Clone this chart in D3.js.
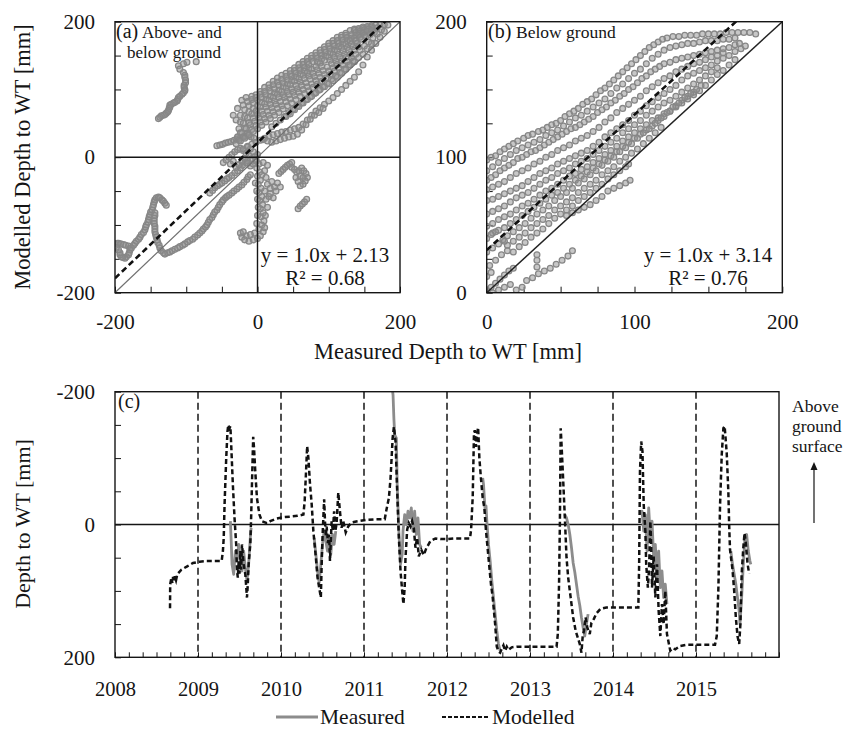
<!DOCTYPE html>
<html>
<head>
<meta charset="utf-8">
<script src="https://cdn.jsdelivr.net/npm/d3@7"></script>
<style>
  body { margin: 0; background: #fff; }
  svg { display: block; }
  text { font-family: "Liberation Serif", "Times New Roman", serif; fill: #151515; }
</style>
</head>
<body>
<svg id="fig" width="857" height="731"></svg>
<script>
// ---------- data ----------
// (a) measured vs modelled depth to water table, above- and below ground [mm]
const pairsAboveBelow = [
  // upper-left wandering run
  [-86,141],[-99,140],[-104,138],[-111,135],[-109,130],[-104,125],[-102,121],[-102,118],[-101,114],[-101,110],[-103,106],[-103,103],[-102,100],[-102,98],[-104,95],[-106,93],[-109,90],[-111,88],[-112,85],[-113,83],[-116,81],[-118,80],[-121,78],[-123,77],[-123,74],[-124,72],[-125,69],[-126,67],[-128,65],[-130,63],[-132,62],[-135,61],[-137,59],[-139,57],
  // lower-left loop and spike
  [-200,-128],[-197,-127],[-195,-127],[-192,-128],[-188,-129],[-185,-130],[-181,-131],[-179,-134],[-179,-137],[-180,-141],[-181,-144],[-184,-147],[-186,-149],[-189,-148],[-191,-147],[-193,-144],[-193,-141],[-195,-137],[-198,-133],
  [-177,-134],[-174,-130],[-172,-127],[-170,-124],[-167,-121],[-165,-118],[-163,-114],[-160,-111],[-158,-107],[-157,-103],[-156,-100],[-154,-96],[-153,-92],[-152,-88],[-151,-85],[-150,-81],[-148,-78],[-147,-74],[-146,-70],[-145,-66],[-144,-63],[-142,-60],[-139,-59],[-137,-60],[-134,-63],[-132,-65],[-130,-68],[-128,-71],
  [-144,-82],[-144,-86],[-145,-90],[-145,-94],[-145,-98],[-144,-102],[-144,-106],[-144,-110],[-143,-114],[-142,-118],[-141,-122],[-140,-126],[-138,-130],[-137,-134],[-135,-138],[-132,-141],[-130,-143],
  // long lower run towards the origin
  [-126,-141],[-123,-140],[-120,-138],[-116,-136],[-112,-134],[-109,-132],[-105,-130],[-102,-128],[-98,-125],[-95,-123],[-91,-121],[-88,-118],[-84,-115],[-81,-112],[-78,-109],[-76,-106],[-73,-103],[-71,-100],[-69,-96],[-67,-92],[-64,-89],[-62,-85],[-60,-81],[-57,-78],[-55,-74],[-53,-70],[-50,-66],[-48,-63],[-45,-60],[-43,-58],[-40,-56],[-36,-53],[-33,-50],[-29,-47],[-26,-44],[-22,-41],[-19,-37],[-15,-33],[-13,-29],[-10,-26],
  [-67,-53],[-63,-49],[-60,-45],[-56,-42],[-53,-40],[-50,-38],[-46,-35],[-43,-32],[-40,-30],[-36,-27],[-32,-23],[-28,-20],[-24,-16],[-21,-12],[-17,-8],[-14,-5],
  [-48,-8],[-44,-4],[-40,0],[-36,4],[-32,8],[-28,11],[-24,13],[-20,10],[-16,6],[-12,2],[-8,-2],[-4,1],[0,4],[-6,8],[-10,12],[-14,15],[-30,-15],[-26,-11],[-22,-6],[-18,-2],[-14,-9],[-10,-13],[-6,-10],[-2,-4],[-34,-6],[-38,-10],
  [-57,17],[-53,18],[-49,19],[-45,21],[-41,22],[-37,23],[-33,25],[-29,27],[-25,28],[-21,29],[-17,31],[-13,32],[-9,30],[-5,28],
  // main cloud
  [-34,62],[-28,72],[-22,84],[-16,88],[-8,90],[-2,92],[4,97],[10,103],[16,107],[22,112],[28,117],[34,121],[40,124],[46,128],[52,132],[58,137],[64,141],[70,146],[76,150],[82,154],[88,158],[94,163],[100,168],[106,172],[112,177],[118,180],[124,183],[130,187],[136,189],[142,190],[148,192],[154,193],[160,194],[166,195],[172,196],[178,196],[183,195],
  [-20,77],[-14,82],[-8,85],[-2,88],[4,93],[10,97],[16,102],[22,107],[28,111],[34,115],[40,119],[46,123],[52,128],[58,132],[64,137],[70,141],[76,146],[82,150],[88,154],[94,159],[100,164],[106,168],[112,172],[118,177],[124,180],[136,187],[142,188],[148,190],[154,191],[160,192],
  [-30,55],[-24,62],[-18,70],[-12,76],[-6,80],[0,84],[6,88],[12,92],[18,97],[24,101],[30,106],[36,110],[42,114],[48,119],[54,124],[60,128],[66,132],[72,137],[78,141],[84,146],[90,150],[96,155],[102,160],[108,164],[114,168],[120,173],[126,177],[132,181],[138,184],[144,186],[150,188],[156,189],[162,190],[168,191],
  [-24,52],[-18,60],[-12,67],[-6,72],[0,76],[6,81],[12,86],[18,90],[24,95],[30,99],[36,104],[42,108],[48,113],[54,118],[60,122],[66,127],[72,131],[84,140],[90,145],[96,149],[102,154],[108,158],[114,163],[120,167],[126,172],[132,176],[138,180],[144,183],[150,185],
  [-26,42],[-20,50],[-14,58],[-8,64],[-2,68],[4,74],[10,79],[16,84],[22,88],[28,93],[34,97],[40,102],[46,107],[52,112],[58,116],[64,121],[70,125],[76,130],[82,134],[88,139],[94,143],[100,148],[106,152],[112,157],[118,162],[124,167],[130,172],[136,176],[142,180],[148,183],[154,186],[160,187],
  [-24,36],[-18,43],[-12,51],[-6,58],[0,63],[6,68],[12,74],[18,78],[24,83],[30,88],[36,92],[42,97],[48,101],[54,106],[60,111],[66,116],[72,120],[78,124],[84,129],[90,134],[102,143],[108,147],[114,152],[120,157],[126,162],[132,167],[138,172],[144,177],[150,180],
  [-28,30],[-22,36],[-16,42],[-10,48],[-4,53],[2,58],[8,63],[14,68],[20,73],[26,78],[32,82],[38,88],[44,92],[50,96],[56,101],[62,106],[68,110],[74,115],[80,119],[86,124],[92,128],[98,133],[104,138],[110,142],[116,147],[122,152],[128,158],[134,163],[140,168],[146,174],[152,178],[158,181],[164,184],
  [-26,25],[-20,30],[-14,35],[-8,41],[-2,47],[4,52],[10,57],[16,62],[22,67],[28,72],[34,76],[40,82],[46,86],[52,91],[58,96],[64,100],[70,104],[76,108],[82,113],[88,118],[94,122],[100,127],[106,132],[112,137],[118,142],[124,147],[130,152],[136,158],[142,163],
  [-30,20],[-24,24],[-18,28],[-12,33],[-6,38],[0,42],[6,47],[12,52],[18,57],[24,62],[30,66],[36,71],[42,76],[48,80],[54,85],[60,90],[66,94],[72,98],[78,103],[84,108],[90,112],[96,117],[102,122],[108,127],[114,132],[120,136],[126,141],[132,147],[138,152],[144,158],[150,164],[156,170],[162,176],[168,182],[174,188],
  [20,45],[26,50],[32,55],[38,60],[44,66],[50,71],[56,76],[62,80],[68,85],[74,89],[80,94],[86,99],[92,104],[98,109],[104,115],[110,120],[116,125],[122,130],[128,136],[134,142],
  [40,60],[46,64],[52,70],[58,75],[64,80],[70,85],[76,90],[82,95],[88,100],[94,104],[100,108],[106,113],[112,118],[118,124],[124,130],[130,136],[136,141],[142,147],[148,152],[154,160],[160,168],
  [-20,12],[-14,16],[-8,19],[-2,22],[4,25],[10,28],[16,31],[22,33],[28,35],[34,37],[40,38],[46,40],[52,42],[58,44],[64,49],[70,55],[76,62],[82,68],[88,73],[94,78],[100,83],[106,88],[112,94],[118,100],[124,106],[130,112],[136,118],[142,126],[148,136],[154,148],[160,158],[166,168],[172,177],[178,186],
  [8,26],[14,24],[20,22],[26,24],[32,26],[38,28],[44,30],[50,31],[56,34],[62,40],[68,48],[74,56],[80,62],[86,66],[92,72],
  // below the surface on the modelled axis
  [-2,-6],[2,-10],[-1,-16],[3,-22],[0,-28],[4,-34],[1,-40],[5,-46],[2,-52],[6,-58],[3,-64],[7,-70],[4,-76],[8,-82],[5,-88],[9,-94],[6,-100],[2,-106],[8,-110],[-4,-112],[-10,-114],[-16,-116],[-22,-118],[-18,-122],[-12,-124],[-6,-122],[0,-120],[4,-116],[-24,-112],[-20,-110],[10,-20],[12,-30],[14,-40],[10,-50],[12,-62],[14,-74],[11,-86],[16,-58],[18,-46],[8,-8],[14,-12],[6,-26],[-3,-38],[-1,-50],[0,-62],[1,-74],[0,-86],[-1,-98],[10,-104],
  [30,-24],[33,-21],[36,-18],[39,-15],[42,-12],[45,-10],[48,-8],[48,-15],[52,-18],[55,-22],[58,-20],[62,-16],[65,-20],[68,-24],[70,-30],[67,-35],[64,-40],[60,-42],[57,-36],[54,-30],[60,-28],[64,-30],
  [57,-76],[60,-72],[63,-69],[66,-66],[69,-62],[20,-36],[24,-44],[28,-38],[18,-54],[22,-60],[26,-50],[32,-44]
];

// (b) measured vs modelled depth to water table, below ground only [mm]
const pairsBelow = [
  [0,98],[3,100],[6,101],[9,104],[12,106],[15,108],[18,110],[21,112],[25,114],[28,116],[31,117],[35,119],[38,120],[41,122],[44,124],[47,125],[50,127],[53,130],[56,132],[59,134],[62,136],[65,139],[68,141],[71,143],[74,146],[77,149],[80,151],[83,154],[86,157],[89,160],[92,163],[95,166],[98,169],[101,172],[104,175],[107,178],[110,181],[113,183],[116,185],[119,187],[122,188],[126,189],[130,189],[134,190],[138,190],[142,190],[146,191],[150,191],[154,191],[158,191],[162,192],[166,192],[170,192],[174,192],[178,192],[182,191],
  [0,90],[4,93],[8,96],[12,99],[16,102],[20,105],[24,107],[28,109],[32,111],[36,113],[40,116],[44,118],[48,120],[52,123],[56,126],[60,129],[64,131],[68,134],[72,137],[76,140],[80,143],[84,147],[88,151],[92,154],[96,158],[100,162],[104,165],[108,169],[112,173],[116,176],[120,179],[124,181],[128,182],[132,183],[136,184],[140,184],[144,185],[148,186],[152,186],[156,186],[160,187],[164,187],[168,188],
  [0,83],[3,85],[6,87],[9,90],[12,92],[15,94],[18,96],[21,99],[24,100],[27,102],[30,104],[33,105],[36,107],[39,109],[42,111],[45,113],[48,115],[51,117],[54,119],[57,121],[60,122],[63,124],[66,126],[69,128],[72,130],[75,133],[78,135],[81,137],[84,140],[87,142],[90,145],[93,147],[96,150],[99,152],[102,155],[105,158],[108,160],[111,163],[114,165],[117,167],[120,169],[124,170],[128,172],[132,173],[136,174],[140,175],[144,176],[148,177],[152,178],[156,179],[160,180],[164,181],[168,183],[171,184],
  [0,76],[4,78],[8,80],[12,82],[16,85],[20,88],[24,90],[28,92],[32,95],[36,97],[40,100],[44,102],[48,105],[52,107],[56,109],[60,112],[64,114],[68,116],[72,119],[76,122],[80,126],[84,129],[88,133],[92,136],[96,139],[100,142],[104,145],[108,149],[112,152],[116,155],[120,158],[124,160],[128,163],[132,165],[136,167],[140,169],[144,170],[148,172],[152,174],[156,175],[160,177],
  [0,68],[4,69],[8,71],[12,73],[16,75],[20,77],[24,79],[28,82],[32,85],[36,88],[40,90],[44,92],[48,95],[52,97],[56,99],[60,101],[64,103],[68,105],[72,108],[76,111],[80,115],[84,118],[88,121],[92,124],[96,127],[100,131],[104,134],[108,138],[112,141],[116,144],[120,147],[124,150],[128,153],[132,157],[136,160],[140,162],[144,164],[148,166],[152,168],[156,171],[160,173],[164,175],[168,178],[172,180],[175,182],
  [0,58],[4,60],[8,62],[12,64],[16,67],[20,70],[24,72],[28,74],[32,77],[36,80],[40,83],[44,85],[48,88],[52,90],[56,92],[60,95],[64,97],[68,99],[72,102],[76,105],[80,108],[84,111],[88,114],[92,118],[96,121],[100,124],[104,127],[108,131],[112,134],[116,137],[120,140],[124,142],[128,145],[132,148],[136,151],[140,154],[144,157],[148,160],[152,163],[156,166],
  [0,49],[4,51],[8,54],[12,56],[16,58],[20,61],[24,64],[28,66],[32,69],[36,72],[40,75],[44,77],[48,80],[52,83],[56,86],[60,88],[64,91],[68,93],[72,96],[76,99],[80,102],[84,105],[88,108],[92,112],[96,115],[100,118],[104,121],[108,124],[112,127],[116,129],[120,132],[124,134],[128,137],[132,140],[136,143],[140,146],[144,149],[148,153],[152,157],[156,161],[160,164],[164,168],[168,172],
  [4,44],[8,46],[12,48],[16,51],[20,54],[24,57],[28,60],[32,63],[36,66],[40,69],[44,72],[48,74],[52,77],[56,80],[60,83],[64,86],[68,89],[72,92],[76,95],[80,98],[84,101],[88,104],[92,108],[96,111],[100,114],[104,117],[108,120],[112,123],[116,127],[120,130],[124,134],[128,138],[132,142],[136,145],[140,148],
  [11,39],[14,42],[18,45],[22,48],[26,51],[30,55],[34,58],[38,61],[42,64],[46,68],[50,71],[54,74],[58,77],[62,81],[66,84],[70,87],[74,90],[78,94],[82,97],[86,100],[90,104],[94,107],[98,110],[102,114],[106,118],[110,121],[114,125],[118,129],[122,133],[126,137],[130,140],[134,144],[138,147],[142,150],[145,153],
  [14,35],[18,38],[22,41],[26,44],[30,48],[34,51],[38,54],[42,57],[46,61],[50,64],[54,67],[58,70],[62,74],[66,77],[70,80],[74,83],[78,87],[82,90],[86,93],[90,97],[94,100],[98,103],[102,106],[106,110],[110,114],[114,118],[118,122],
  [22,34],[26,37],[30,41],[34,44],[38,47],[42,51],[46,55],[50,58],[54,61],[58,64],[62,68],[66,71],[70,74],[74,77],[78,80],[82,84],[86,87],[90,90],[94,93],[96,95],
  [54,57],[58,59],[62,61],[66,63],[70,65],[74,68],[78,71],[82,75],[86,77],[90,79],[94,81],[97,83],
  [0,40],[3,43],[6,45],[0,30],[4,33],[8,36],[12,38],[2,20],[6,24],[10,28],[14,31],[18,30],
  [27,9],[31,11],[35,14],[39,16],[43,18],[47,21],[51,24],[55,27],[58,31],[34,19],[34,24],[34,28],
  [0,2],[3,4],[6,7],[9,10],[12,13],[15,16],[18,18],[4,0],[8,2],[12,4],[16,6],[20,2],[24,4],[0,12],[3,15]
];

// linear fits shown in (a) and (b): slope, intercept [cm], R²
const fitSlope = [1.0, 1.0];
const fitIntercept = [2.13, 3.14];
const fitR2 = [0.68, 0.76];

// (c) time series, decimal year vs depth to water table [mm]
const modelledSeries = [
  [2008.663,126],[2008.665,90],[2008.68,80],[2008.69,88],[2008.70,79],[2008.71,86],[2008.72,78],[2008.735,84],[2008.75,75],[2008.80,68],[2008.87,63],[2008.94,58],[2009.02,56],[2009.10,55],[2009.20,55],[2009.285,55],
  [2009.30,40],[2009.31,20],[2009.32,-30],[2009.34,-100],[2009.355,-140],[2009.365,-150],[2009.38,-145],[2009.39,-148],[2009.40,-120],[2009.42,-60],[2009.44,-10],[2009.46,30],[2009.47,70],[2009.48,80],[2009.49,55],[2009.50,74],[2009.51,40],[2009.52,68],[2009.53,30],[2009.55,60],[2009.57,75],[2009.59,110],[2009.60,90],[2009.61,60],[2009.63,30],[2009.64,-10],[2009.65,-60],[2009.665,-132],[2009.675,-115],[2009.69,-80],[2009.71,-40],[2009.74,-15],[2009.77,-5],[2009.83,-2],[2009.87,-5],[2009.95,-9],
  [2010.03,-11],[2010.12,-12],[2010.20,-13],[2010.27,-15],[2010.285,-35],[2010.30,-75],[2010.315,-118],[2010.33,-100],[2010.35,-60],[2010.37,-30],[2010.39,10],[2010.42,50],[2010.44,80],[2010.46,95],[2010.48,110],[2010.49,60],[2010.50,20],[2010.51,-10],[2010.52,-38],[2010.53,-5],[2010.54,18],[2010.55,3],[2010.565,28],[2010.58,15],[2010.59,55],[2010.61,-5],[2010.625,10],[2010.64,-20],[2010.655,10],[2010.67,-2],[2010.69,-48],[2010.71,-20],[2010.73,5],[2010.75,-5],[2010.78,12],[2010.81,3],[2010.85,-3],[2010.92,-5],
  [2011.03,-7],[2011.15,-8],[2011.25,-8],[2011.27,-22],[2011.30,-40],[2011.32,-70],[2011.345,-130],[2011.36,-147],[2011.38,-125],[2011.40,-50],[2011.42,20],[2011.44,70],[2011.46,100],[2011.475,120],[2011.49,95],[2011.50,50],[2011.52,8],[2011.54,-2],[2011.56,3],[2011.58,-5],[2011.60,5],[2011.62,35],[2011.64,20],[2011.66,48],[2011.69,38],[2011.72,46],[2011.75,36],[2011.80,25],[2011.86,21],[2011.92,22],
  [2012.00,22],[2012.10,21],[2012.20,21],[2012.277,21],[2012.29,8],[2012.31,-42],[2012.325,-137],[2012.335,-142],[2012.35,-117],[2012.36,-135],[2012.375,-146],[2012.39,-100],[2012.41,-68],[2012.43,-40],[2012.45,-25],[2012.47,10],[2012.50,50],[2012.53,90],[2012.55,109],[2012.58,150],[2012.60,184],[2012.625,192],[2012.64,193],[2012.66,187],[2012.68,182],[2012.70,190],[2012.72,184],[2012.74,189],[2012.78,185],[2012.84,184],[2012.95,184],
  [2013.05,184],[2013.15,184],[2013.25,184],[2013.32,184],[2013.335,165],[2013.35,90],[2013.36,0],[2013.37,-145],[2013.38,-120],[2013.395,-80],[2013.42,-10],[2013.44,50],[2013.46,80],[2013.49,110],[2013.52,140],[2013.55,160],[2013.58,172],[2013.60,180],[2013.62,193],[2013.635,168],[2013.65,160],[2013.67,140],[2013.69,155],[2013.72,165],[2013.74,148],[2013.77,142],[2013.80,134],[2013.85,127],[2013.92,125],
  [2014.00,125],[2014.10,125],[2014.20,125],[2014.305,125],[2014.315,60],[2014.325,-80],[2014.34,-125],[2014.355,-110],[2014.37,-30],[2014.39,10],[2014.40,60],[2014.42,95],[2014.435,65],[2014.45,-5],[2014.46,30],[2014.47,95],[2014.49,48],[2014.51,110],[2014.53,60],[2014.55,130],[2014.57,168],[2014.59,120],[2014.61,150],[2014.63,100],[2014.65,165],[2014.69,190],[2014.72,186],[2014.75,188],[2014.81,183],[2014.89,181],
  [2015.00,181],[2015.10,181],[2015.229,181],[2015.25,168],[2015.27,95],[2015.29,-30],[2015.31,-105],[2015.33,-145],[2015.345,-148],[2015.37,-108],[2015.39,-48],[2015.40,3],[2015.41,38],[2015.425,53],[2015.44,68],[2015.46,100],[2015.48,140],[2015.50,168],[2015.52,180],[2015.535,150],[2015.55,75],[2015.57,35],[2015.585,13],[2015.60,28],[2015.62,58],[2015.64,74]
];

// measured record; null marks gaps between logging periods
const measuredSeries = [
  [2009.39,-5],[2009.40,25],[2009.41,60],[2009.43,75],[2009.45,40],[2009.47,55],[2009.49,30],[2009.51,50],[2009.53,70],[2009.55,40],[2009.57,65],[2009.59,85],[2009.61,60],[2009.63,20],[2009.64,5],
  null,
  [2010.40,20],[2010.42,45],[2010.44,70],[2010.46,88],[2010.48,60],[2010.50,30],[2010.52,10],[2010.54,25],[2010.56,40],[2010.58,20],[2010.60,45],[2010.62,15],[2010.64,30],[2010.66,10],
  null,
  [2011.345,-200],[2011.35,-195],[2011.36,-160],[2011.37,-135],[2011.39,-130],[2011.40,-60],[2011.42,10],[2011.44,60],[2011.46,45],[2011.47,10],[2011.49,-15],[2011.51,0],[2011.53,-20],[2011.55,-10],[2011.57,-25],[2011.59,10],[2011.61,-20],[2011.63,15],[2011.65,-10],[2011.67,30],[2011.69,35],
  null,
  [2012.43,-70],[2012.44,-60],[2012.45,-40],[2012.46,-20],[2012.47,-28],[2012.48,-5],[2012.50,30],[2012.52,55],[2012.54,85],[2012.56,110],[2012.58,135],[2012.60,160],[2012.62,180],[2012.64,190],
  null,
  [2013.42,-15],[2013.44,-10],[2013.46,0],[2013.48,15],[2013.50,35],[2013.52,58],[2013.54,72],[2013.56,90],[2013.58,108],[2013.60,122],[2013.62,140],[2013.64,155],[2013.66,168],[2013.68,150],[2013.70,135],
  null,
  [2014.33,-15],[2014.35,-20],[2014.37,10],[2014.39,-15],[2014.41,40],[2014.43,-25],[2014.45,20],[2014.47,-5],[2014.49,50],[2014.51,30],[2014.53,80],[2014.55,40],[2014.57,95],[2014.59,70],[2014.61,110],[2014.63,90],[2014.65,120],
  null,
  [2015.42,40],[2015.44,60],[2015.46,75],[2015.48,90],[2015.50,110],[2015.52,130],[2015.53,150],[2015.55,110],[2015.57,60],[2015.59,20],[2015.61,15],[2015.63,40],[2015.65,55],[2015.66,60]
];

const yearLabels = [2008, 2009, 2010, 2011, 2012, 2013, 2014, 2015];
const yearDividers = [2009, 2010, 2011, 2012, 2013, 2014, 2015];
const ticksA = [-200, -150, -100, -50, 0, 50, 100, 150, 200];
const labelsA = [-200, 0, 200];
const ticksB = [0, 25, 50, 75, 100, 125, 150, 175, 200];
const labelsB = [0, 100, 200];
const legendNames = ["Measured", "Modelled"];

// ---------- drawing ----------
const svg = d3.select("#fig");
const INK = "#151515";
const DOT = "#878787";

const xA = d3.scaleLinear().domain([-200, 200]).range([115, 400]);
const yA = d3.scaleLinear().domain([-200, 200]).range([292.7, 21.7]);
const xB = d3.scaleLinear().domain([0, 200]).range([486.7, 782.3]);
const yB = d3.scaleLinear().domain([0, 200]).range([292.7, 21.7]);
const xC = d3.scaleLinear().domain([2008, 2016]).range([115, 779]);
const yC = d3.scaleLinear().domain([-200, 200]).range([391.7, 657.3]);

const defs = svg.append("defs");
function clipFor(id, x, y) {
  const [x0, x1] = x.range(), [y0, y1] = y.range();
  defs.append("clipPath").attr("id", id).append("rect")
    .attr("x", x0).attr("y", Math.min(y0, y1))
    .attr("width", x1 - x0).attr("height", Math.abs(y1 - y0));
}

function styleAxis(sel, size) {
  sel.select(".domain").remove();
  sel.attr("font-family", null).attr("font-size", null);
  sel.selectAll(".tick line").attr("stroke", INK).attr("stroke-width", 1);
  sel.selectAll(".tick text").attr("fill", INK).style("font-size", size + "px");
}

function frame(x, y) {
  const [x0, x1] = x.range(), [y0, y1] = y.range();
  svg.append("rect").attr("x", x0).attr("y", Math.min(y0, y1))
    .attr("width", x1 - x0).attr("height", Math.abs(y1 - y0))
    .attr("fill", "none").attr("stroke", INK).attr("stroke-width", 1.4);
}

function scatterPanel(id, x, y, pts, ticks, labels, k) {
  clipFor(id, x, y);
  const fmt = d => labels.includes(d) ? String(d) : "";
  svg.append("g").attr("transform", `translate(0,${y.range()[0]})`)
    .call(d3.axisBottom(x).tickValues(ticks).tickSize(-6).tickPadding(21).tickFormat(fmt))
    .call(s => styleAxis(s, 21));
  svg.append("g").attr("transform", `translate(${x.range()[0]},0)`)
    .call(d3.axisLeft(y).tickValues(ticks).tickSize(-6).tickPadding(20).tickFormat(fmt))
    .call(s => styleAxis(s, 21));

  const plot = svg.append("g").attr("clip-path", `url(#${id})`);
  plot.append("g").selectAll("circle").data(pts).join("circle")
    .attr("cx", d => x(d[0])).attr("cy", d => y(d[1])).attr("r", 2.9)
    .attr("fill", "#909090").attr("fill-opacity", 0.5)
    .attr("stroke", DOT).attr("stroke-width", 1.3);

  const [d0, d1] = x.domain();
  // 1:1 line
  plot.append("line")
    .attr("x1", x(d0)).attr("y1", y(d0)).attr("x2", x(d1)).attr("y2", y(d1))
    .attr("stroke", k === 0 ? "#707070" : "#222").attr("stroke-width", k === 0 ? 1.2 : 1.5);
  // fitted line (intercept given in cm)
  const fy = v => fitSlope[k] * v + fitIntercept[k] * 10;
  plot.append("line")
    .attr("x1", x(d0)).attr("y1", y(fy(d0))).attr("x2", x(d1)).attr("y2", y(fy(d1)))
    .attr("stroke", "#111").attr("stroke-width", 2.6).attr("stroke-dasharray", "6,3.5");

  frame(x, y);

  const cx = k === 0 ? 325 : 708;
  svg.append("text").attr("x", cx).attr("y", 262).attr("text-anchor", "middle")
    .style("font-size", "21px").text(`y = ${fitSlope[k].toFixed(1)}x + ${fitIntercept[k].toFixed(2)}`);
  svg.append("text").attr("x", cx).attr("y", 285).attr("text-anchor", "middle")
    .style("font-size", "21px").text(`R² = ${fitR2[k].toFixed(2)}`);
}

// panel (a)
scatterPanel("clipA", xA, yA, pairsAboveBelow, ticksA, labelsA, 0);
svg.append("line").attr("x1", xA(0)).attr("x2", xA(0)).attr("y1", yA(200)).attr("y2", yA(-200))
  .attr("stroke", INK).attr("stroke-width", 1.4);
svg.append("line").attr("x1", xA(-200)).attr("x2", xA(200)).attr("y1", yA(0)).attr("y2", yA(0))
  .attr("stroke", INK).attr("stroke-width", 1.4);
svg.append("text").attr("x", 116).attr("y", 38).style("font-size", "20px").text("(a)");
svg.append("text").attr("x", 142).attr("y", 38).style("font-size", "17px").text("Above- and");
svg.append("text").attr("x", 127).attr("y", 58).style("font-size", "17px").text("below ground");

// panel (b)
scatterPanel("clipB", xB, yB, pairsBelow, ticksB, labelsB, 1);
svg.append("text").attr("x", 488).attr("y", 38).style("font-size", "20px").text("(b)");
svg.append("text").attr("x", 516).attr("y", 38).style("font-size", "17.5px").text("Below ground");

// shared titles
svg.append("text").attr("x", 448).attr("y", 359).attr("text-anchor", "middle")
  .style("font-size", "22.5px").text("Measured Depth to WT [mm]");
svg.append("text").attr("transform", "translate(30,157) rotate(-90)").attr("text-anchor", "middle")
  .style("font-size", "22.5px").text("Modelled Depth to WT [mm]");

// panel (c)
clipFor("clipC", xC, yC);
const minorTicks = d3.range(0, 49).map(i => 2008 + i / 6);
svg.append("g").attr("transform", `translate(0,${yC.range()[1]})`)
  .call(d3.axisBottom(xC).tickValues(minorTicks).tickSize(-5).tickFormat(""))
  .call(s => styleAxis(s, 20));
svg.append("g").attr("transform", `translate(0,${yC.range()[1]})`)
  .call(d3.axisBottom(xC).tickValues(yearLabels).tickSize(0).tickPadding(24).tickFormat(d3.format("d")))
  .call(s => styleAxis(s, 20.5));
svg.append("g").attr("transform", `translate(${xC.range()[0]},0)`)
  .call(d3.axisLeft(yC).tickValues(ticksA).tickSize(-6).tickPadding(20)
    .tickFormat(d => labelsA.includes(d) ? String(d) : ""))
  .call(s => styleAxis(s, 21));

const plotC = svg.append("g").attr("clip-path", "url(#clipC)");
plotC.selectAll("line.year").data(yearDividers).join("line").attr("class", "year")
  .attr("x1", d => xC(d)).attr("x2", d => xC(d)).attr("y1", yC(-200)).attr("y2", yC(200))
  .attr("stroke", INK).attr("stroke-width", 1.5).attr("stroke-dasharray", "7,4");
plotC.append("line").attr("x1", xC(2008)).attr("x2", xC(2016)).attr("y1", yC(0)).attr("y2", yC(0))
  .attr("stroke", INK).attr("stroke-width", 1.4);

const lineC = d3.line().defined(d => d !== null).x(d => xC(d[0])).y(d => yC(d[1]));
plotC.append("path").datum(measuredSeries).attr("d", lineC)
  .attr("fill", "none").attr("stroke", "#8c8c8c").attr("stroke-width", 2.8).attr("stroke-linejoin", "round");
plotC.append("path").datum(modelledSeries).attr("d", lineC)
  .attr("fill", "none").attr("stroke", "#111").attr("stroke-width", 2.5)
  .attr("stroke-dasharray", "5,3");
frame(xC, yC);

svg.append("text").attr("x", 118).attr("y", 408).style("font-size", "20px").text("(c)");
svg.append("text").attr("transform", "translate(30,524) rotate(-90)").attr("text-anchor", "middle")
  .style("font-size", "22px").text("Depth to WT [mm]");

// note on the right: above ground surface
const note = svg.append("text").style("font-size", "17.5px");
["Above", "ground", "surface"].forEach((w, i) =>
  note.append("tspan").attr("x", 792).attr("y", 412 + i * 20).text(w));
svg.append("line").attr("x1", 814).attr("x2", 814).attr("y1", 523).attr("y2", 469)
  .attr("stroke", INK).attr("stroke-width", 1.2);
svg.append("path").attr("d", "M814,462 L810.5,470 L817.5,470 Z").attr("fill", INK);

// legend
const legend = svg.append("g");
legend.append("line").attr("x1", 276).attr("x2", 318).attr("y1", 717).attr("y2", 717)
  .attr("stroke", "#8c8c8c").attr("stroke-width", 3);
legend.append("text").attr("x", 320).attr("y", 724).style("font-size", "21.5px").text(legendNames[0]);
legend.append("line").attr("x1", 442).attr("x2", 490).attr("y1", 717).attr("y2", 717)
  .attr("stroke", "#111").attr("stroke-width", 2.2).attr("stroke-dasharray", "4,2");
legend.append("text").attr("x", 492).attr("y", 724).style("font-size", "21.5px").text(legendNames[1]);
</script>
</body>
</html>
